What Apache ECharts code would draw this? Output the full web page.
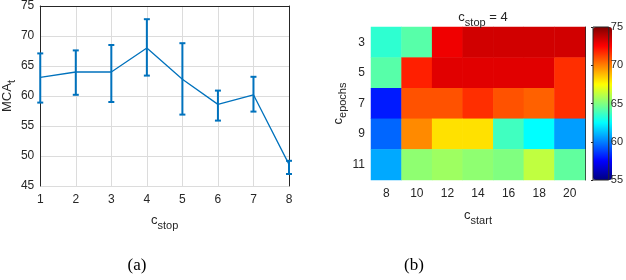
<!DOCTYPE html>
<html><head><meta charset="utf-8">
<script src="https://cdn.jsdelivr.net/npm/echarts@6/dist/echarts.min.js"></script>
<style>html,body{margin:0;padding:0;background:#fff}#c{width:626px;height:280px}</style>
</head><body><div id="c"></div>
<script>
// ---- Data (a) ----
var cStop = [1, 2, 3, 4, 5, 6, 7, 8];
var mcaMean = [63.1, 64.0, 64.0, 68.0, 62.8, 58.6, 60.2, 48.6];
var mcaLow  = [58.9, 60.2, 59.0, 63.4, 56.9, 55.9, 57.4, 47.0];
var mcaHigh = [67.1, 67.6, 68.5, 72.8, 68.8, 60.9, 63.2, 49.2];
var yTicksA = [45, 50, 55, 60, 65, 70, 75];

// ---- Data (b) ----
var cStart = ['8', '10', '12', '14', '16', '18', '20'];
var cEpochs = ['3', '5', '7', '9', '11'];
var row3  = [63.4, 64.2, 72.8, 73.4, 73.4, 73.4, 73.4];
var row5  = [64.2, 71.9, 73.1, 73.1, 73.1, 73.1, 71.6];
var row7  = [58.0, 70.9, 70.9, 71.6, 70.9, 70.6, 71.6];
var row9  = [59.5, 69.8, 68.1, 68.1, 63.75, 62.5, 60.6];
var row11 = [60.8, 65.3, 65.6, 65.3, 65.0, 66.25, 64.4];
var cbarRange = [55, 75];

var rows = [row3, row5, row7, row9, row11];
var heat = [];
rows.forEach(function (r, yi) { r.forEach(function (v, xi) { heat.push([xi, yi, v]); }); });
var lineData = cStop.map(function (x, i) { return [x, mcaMean[i]]; });
var errData = cStop.map(function (x, i) { return [x, mcaLow[i], mcaHigh[i]]; });

var blue = '#0072BD';
var txt = '#262626';
var F = 'Liberation Sans, Arial, sans-serif';
var jet = ['#000080', '#0000ff', '#0080ff', '#00ffff', '#80ff80', '#ffff00', '#ff8000', '#ff0000', '#800000'];

var chart = echarts.init(document.getElementById('c'));
chart.setOption({
  animation: false,
  textStyle: { fontFamily: F },
  title: [
    { text: '{c|c}{s|stop}{c| = 4}', left: 478, top: 2, textAlign: 'center',
      textStyle: { fontWeight: 'normal', rich: { c: { fontSize: 13, color: txt, fontFamily: F, fontWeight: 'normal' }, s: { fontSize: 11, color: txt, fontFamily: F, fontWeight: 'normal', padding: [10, 0, 0, 0] } } } },
    { text: '(a)', left: 132, top: 252, textAlign: 'center', textStyle: { fontFamily: 'Liberation Serif, Times New Roman, serif', fontSize: 17, fontWeight: 'normal', color: '#000' } },
    { text: '(b)', left: 409, top: 252, textAlign: 'center', textStyle: { fontFamily: 'Liberation Serif, Times New Roman, serif', fontSize: 17, fontWeight: 'normal', color: '#000' } }
  ],
  grid: [
    { left: 39, right: 337, top: 5, bottom: 94 },
    { left: 371, right: 41, top: 27, bottom: 100 },
    { left: 593, right: 14, top: 27, bottom: 100, show: true, borderColor: '#262626', borderWidth: 1, backgroundColor: 'transparent', z: 5 }
  ],
  xAxis: [
    { gridIndex: 0, type: 'value', min: 1, max: 8, interval: 1, position: 'bottom',
      axisLine: { show: false }, axisTick: { show: false },
      axisLabel: { color: txt, fontSize: 12, margin: 8, fontFamily: F },
      splitLine: { show: true, lineStyle: { color: '#dcdcdc', width: 1 } },
      name: '{c|c}{s|stop}', nameLocation: 'middle', nameGap: 24,
      nameTextStyle: { rich: { c: { fontSize: 13, color: txt, fontFamily: F }, s: { fontSize: 11, color: txt, fontFamily: F, padding: [10, 0, 0, 0] } } } },
    { gridIndex: 0, type: 'value', min: 1, max: 8, interval: 1, position: 'top',
      axisLine: { show: true, lineStyle: { color: '#262626' } }, axisTick: { show: false }, axisLabel: { show: false }, splitLine: { show: false } },
    { gridIndex: 1, type: 'category', data: cStart, position: 'bottom',
      axisLine: { show: false }, axisTick: { show: true, inside: true, length: 3, alignWithLabel: true, lineStyle: { color: '#262626' } },
      axisLabel: { color: txt, fontSize: 12, margin: 8, fontFamily: F },
      splitLine: { show: false },
      name: '{c|c}{s|start}', nameLocation: 'middle', nameGap: 25,
      nameTextStyle: { rich: { c: { fontSize: 13, color: txt, fontFamily: F }, s: { fontSize: 11, color: txt, fontFamily: F, padding: [10, 0, 0, 0] } } } },
    { gridIndex: 2, type: 'value', show: false, min: 0, max: 1 }
  ],
  yAxis: [
    { gridIndex: 0, type: 'value', min: yTicksA[0], max: yTicksA[yTicksA.length - 1], interval: 5,
      axisLine: { show: true, lineStyle: { color: '#262626' } }, axisTick: { show: false },
      axisLabel: { color: txt, fontSize: 12, margin: 6, fontFamily: F },
      splitLine: { show: true, lineStyle: { color: '#dcdcdc', width: 1 } },
      name: '{c|MCA}{s|t}', nameLocation: 'middle', nameGap: 22, nameRotate: 90,
      nameTextStyle: { rich: { c: { fontSize: 13, color: txt, fontFamily: F }, s: { fontSize: 11, color: txt, fontFamily: F, padding: [8, 0, 0, 0] } } } },
    { gridIndex: 0, type: 'value', min: 45, max: 75, interval: 5, position: 'right',
      axisLine: { show: true, lineStyle: { color: '#262626' } }, axisTick: { show: false }, axisLabel: { show: false }, splitLine: { show: false } },
    { gridIndex: 1, type: 'category', data: cEpochs, inverse: true,
      axisLine: { show: false }, axisTick: { show: true, inside: true, length: 3, alignWithLabel: true, lineStyle: { color: '#262626' } },
      axisLabel: { color: txt, fontSize: 12, margin: 6, fontFamily: F },
      name: '{c|c}{s|epochs}', nameLocation: 'middle', nameGap: 20, nameRotate: 90,
      nameTextStyle: { rich: { c: { fontSize: 13, color: txt, fontFamily: F }, s: { fontSize: 11, color: txt, fontFamily: F, padding: [10, 0, 0, 0] } } } },
    { gridIndex: 1, type: 'category', data: cEpochs, inverse: true, position: 'right',
      axisLine: { show: true, lineStyle: { color: '#262626' } },
      axisTick: { show: true, inside: true, length: 3, alignWithLabel: true, lineStyle: { color: '#262626' } },
      axisLabel: { show: false } },
    { gridIndex: 2, type: 'value', min: cbarRange[0], max: cbarRange[1], interval: 5, position: 'right',
      axisLine: { show: false }, axisTick: { show: true, inside: true, length: 2, lineStyle: { color: '#262626' } },
      axisLabel: { color: txt, fontSize: 11, margin: 2, fontFamily: F, align: 'left' }, splitLine: { show: false }, z: 6 }
  ],
  visualMap: {
    type: 'continuous', min: cbarRange[0], max: cbarRange[1], seriesIndex: 2,
    calculable: false, showLabel: false, text: null, realtime: false,
    orient: 'vertical', left: 593, top: 27, itemWidth: 19, itemHeight: 153, padding: 0,
    inRange: { color: jet }, hoverLink: false, z: 1
  },
  series: [
    { type: 'line', xAxisIndex: 0, yAxisIndex: 0, data: lineData, symbol: 'none',
      lineStyle: { color: blue, width: 1.3 }, z: 3 },
    { type: 'custom', xAxisIndex: 0, yAxisIndex: 0, data: errData, z: 4,
      renderItem: function (params, api) {
        var x = api.value(0);
        var lo = api.coord([x, api.value(1)]);
        var hi = api.coord([x, api.value(2)]);
        var cap = 3;
        var st = { stroke: blue, lineWidth: 2 };
        return { type: 'group', children: [
          { type: 'line', shape: { x1: lo[0], y1: lo[1], x2: hi[0], y2: hi[1] }, style: st },
          { type: 'line', shape: { x1: lo[0] - cap, y1: lo[1], x2: lo[0] + cap, y2: lo[1] }, style: st },
          { type: 'line', shape: { x1: hi[0] - cap, y1: hi[1], x2: hi[0] + cap, y2: hi[1] }, style: st }
        ] };
      } },
    { type: 'heatmap', xAxisIndex: 2, yAxisIndex: 2, data: heat, itemStyle: { borderWidth: 0 }, emphasis: { disabled: true } }
  ]
});
</script></body></html>
